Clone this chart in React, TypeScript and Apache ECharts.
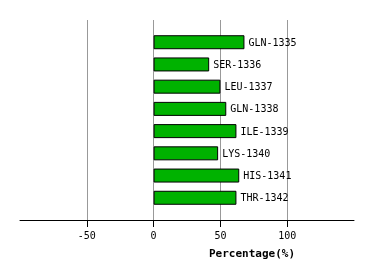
import React, { useEffect, useRef } from "react";
import * as echarts from "echarts";

const categories = ["", "GLN-1335", "SER-1336", "LEU-1337", "GLN-1338", "ILE-1339", "LYS-1340", "HIS-1341", "THR-1342", ""];
const values: (number | string)[] = ["-", 68, 41.6, 50, 54.4, 62, 48.3, 64.1, 62, "-"];
const tickValues = [-50, 0, 50, 100];
const gridValues = [-50, 0, 50, 100];

export default function App() {
  const ref = useRef<HTMLDivElement>(null);
  useEffect(() => {
    const chart = echarts.init(ref.current!, null, { renderer: "svg" });
    chart.setOption({
      animation: false,
      grid: { left: 20, right: 20, top: 20, bottom: 60 },
      xAxis: {
        type: "value",
        min: -100,
        max: 150,
        interval: 50,
        axisLine: { show: true, lineStyle: { color: "#000", width: 1 } },
        axisTick: { show: true, length: 7, lineStyle: { color: "#000" }, customValues: tickValues },
        axisLabel: {
          customValues: tickValues,
          color: "#000",
          fontFamily: "DejaVu Sans Mono",
          fontSize: 10,
          margin: 10,
        },
        splitLine: { show: false },
      },
      yAxis: {
        type: "category",
        data: categories,
        inverse: true,
        boundaryGap: false,
        axisLine: { show: false },
        axisTick: { show: false },
        axisLabel: { show: false },
        splitLine: { show: false },
      },
      graphic: [
        {
          type: "text",
          left: 209,
          top: 248,
          style: {
            text: "Percentage(%)",
            fontFamily: "DejaVu Sans Mono",
            fontWeight: "bold",
            fontSize: 11,
            fill: "#000",
          },
        },
      ],
      series: [
        {
          type: "line",
          data: [],
          z: 1,
          silent: true,
          markLine: {
            silent: true,
            symbol: "none",
            z: 1,
            label: { show: false },
            lineStyle: { color: "#999", type: "solid", width: 1 },
            data: gridValues.map((v) => ({ xAxis: v })),
          },
        },
        {
          type: "bar",
          data: values,
          barWidth: 14,
          itemStyle: { color: "#00b200", borderColor: "#000", borderWidth: 1 },
          label: {
            show: true,
            position: "right",
            distance: 4,
            formatter: "{b}",
            color: "#000",
            fontFamily: "DejaVu Sans Mono",
            fontSize: 10,
          },
          z: 3,
        },
      ],
    });
    return () => chart.dispose();
  }, []);
  return <div ref={ref} style={{ position: "fixed", left: 0, top: 0, width: 374, height: 280 }} />;
}
